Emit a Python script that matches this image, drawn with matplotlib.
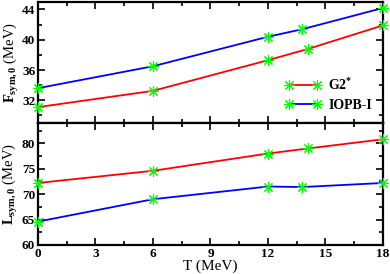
import matplotlib
matplotlib.use("Agg")
import matplotlib.pyplot as plt
from matplotlib.ticker import MultipleLocator

plt.rcParams["font.family"] = ["Liberation Serif", "DejaVu Serif"]
plt.rcParams["font.weight"] = "bold"
plt.rcParams["mathtext.fontset"] = "custom"
plt.rcParams["mathtext.rm"] = "Liberation Serif:bold"
plt.rcParams["mathtext.it"] = "Liberation Serif:bold"
plt.rcParams["mathtext.bf"] = "Liberation Serif:bold"

# temperatura (MeV)
t_g2 = [0, 6, 12, 14.1, 18]
t_iopb = [0, 6, 12, 13.8, 18]

# F_sym,0 (MeV)
f_g2 = [31.1, 33.25, 37.3, 38.8, 41.9]
f_iopb = [33.6, 36.5, 40.4, 41.4, 44.2]

# L_sym,0 (MeV)
l_g2 = [72.2, 74.6, 78.0, 79.0, 80.8]
l_iopb = [64.6, 69.0, 71.5, 71.4, 72.2]

labels = [r"G2$^{*}$", "IOPB-I"]
colores = ["#ff0000", "#0000ff"]
verde = "#00ff00"
ast = (8, 2, 0)

fig = plt.figure(figsize=(3.9, 2.74), dpi=100)
ax1 = fig.add_axes([0.0974, 0.551, 0.8846, 0.442])
ax2 = fig.add_axes([0.0974, 0.106, 0.8846, 0.445])

for ax, (yg, yi) in zip([ax1, ax2], [(f_g2, f_iopb), (l_g2, l_iopb)]):
    ax.plot(t_g2, yg, color=colores[0], lw=1.3, marker=ast, ms=8, mec=verde,
            mfc=verde, mew=0.8, label=labels[0], clip_on=False, zorder=3)
    ax.plot(t_iopb, yi, color=colores[1], lw=1.3, marker=ast, ms=8, mec=verde,
            mfc=verde, mew=0.8, label=labels[1], clip_on=False, zorder=3)
    ax.set_xlim(0, 18)
    ax.xaxis.set_major_locator(MultipleLocator(3))
    ax.xaxis.set_minor_locator(MultipleLocator(1.5))
    ax.tick_params(which="both", direction="in", top=True, right=True, width=1.2)
    ax.tick_params(which="major", length=5, labelsize=9.5, pad=2)
    ax.tick_params(which="minor", length=3)
    for s in ax.spines.values():
        s.set_linewidth(1.6)

ax1.set_ylim(29, 45)
ax1.yaxis.set_major_locator(MultipleLocator(4))
ax1.yaxis.set_minor_locator(MultipleLocator(2))
ax1.tick_params(labelbottom=False)
ax1.set_ylabel(r"$F_{sym,0}$ (MeV)", fontsize=10.5, labelpad=1)
ax1.legend(loc="lower right", frameon=False, fontsize=10, numpoints=2,
           handlelength=2.6, borderaxespad=0.5, labelspacing=0.45,
           handletextpad=0.5, borderpad=0.3)

ax2.set_ylim(60, 84)
ax2.yaxis.set_major_locator(MultipleLocator(5))
ax2.yaxis.set_minor_locator(MultipleLocator(2.5))
ax2.set_ylabel(r"$L_{sym,0}$ (MeV)", fontsize=10.5, labelpad=1)
ax2.set_xlabel("T (MeV)", fontsize=11, labelpad=0)

fig.savefig("out.png", dpi=100)
